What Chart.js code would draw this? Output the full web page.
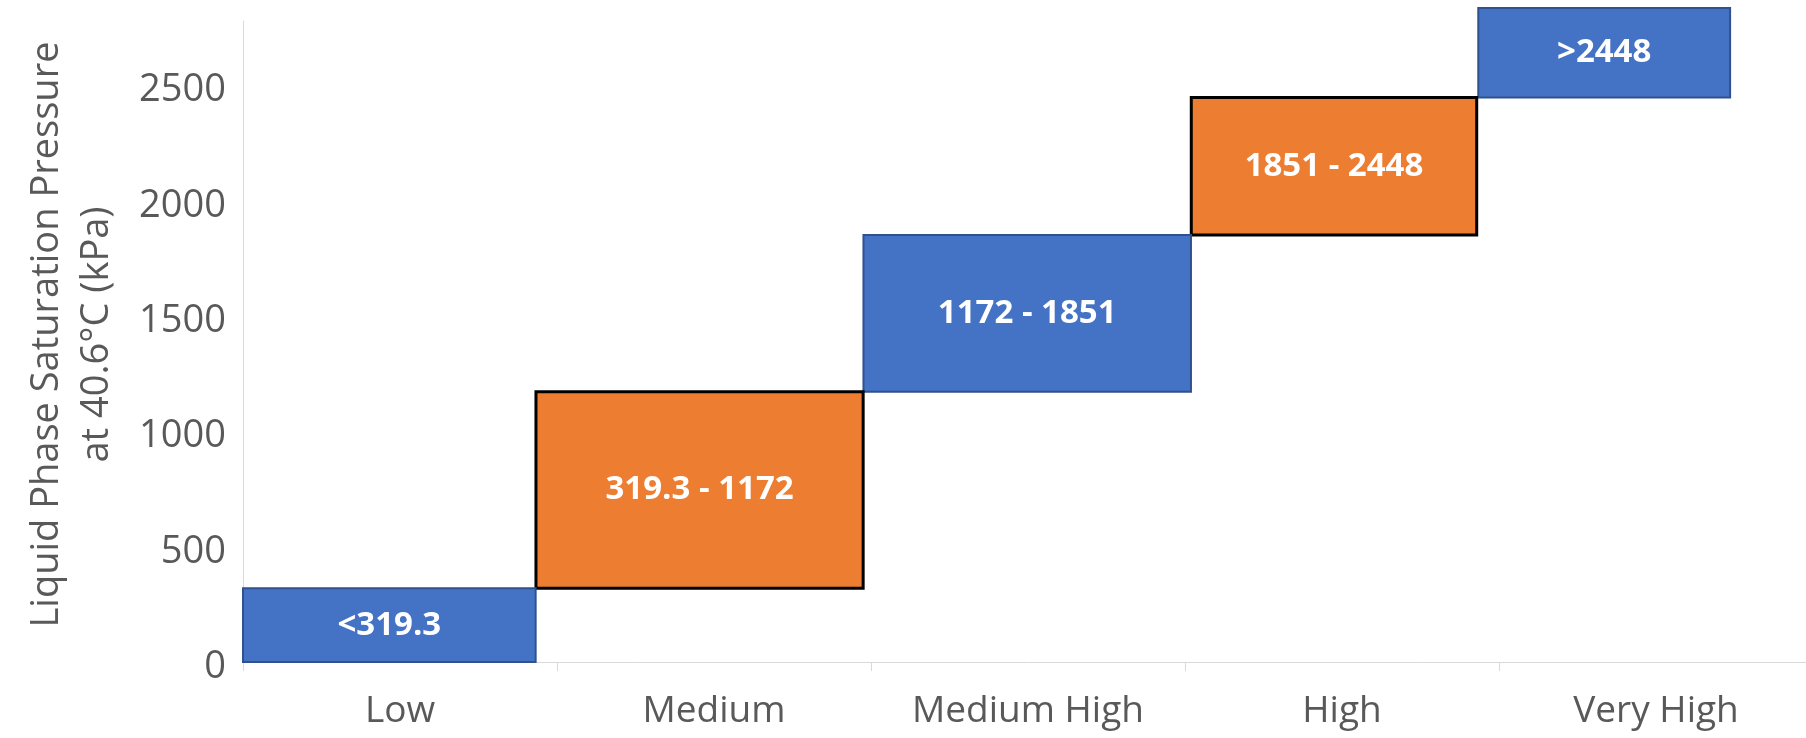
<!DOCTYPE html>
<html>
<head>
<meta charset="utf-8">
<script src="https://cdn.jsdelivr.net/npm/chart.js@4.4.1/dist/chart.umd.min.js"></script>
<style>
  html, body { margin: 0; padding: 0; background: #ffffff; overflow: hidden; }
  #wrap { width: 1820px; height: 738px; }
</style>
</head>
<body>
<div id="wrap"><canvas id="chart" width="1820" height="738"></canvas></div>
<script>
// Pressure classes and their liquid phase saturation pressure ranges (kPa at 40.6 °C)
const categories  = ['Low', 'Medium', 'Medium High', 'High', 'Very High'];
const rangeLow    = [0, 319.3, 1172, 1851, 2448];
const rangeHigh   = [319.3, 1172, 1851, 2448, 2836];
const rangeLabels = ['<319.3', '319.3 - 1172', '1172 - 1851', '1851 - 2448', '>2448'];
// Horizontal extent of each band, in category units (0 = left edge, 5 = right edge)
const bandStart   = [0, 0.933, 1.976, 3.020, 3.934];
const bandEnd     = [0.932, 1.975, 3.019, 3.929, 4.736];
const yTickValues = [0, 500, 1000, 1500, 2000, 2500];
const yAxisLineTop = 2780;

const BLUE = '#4472C4', BLUE_EDGE = '#2F528F';
const ORANGE = '#ED7D31', ORANGE_EDGE = '#000000';
const TEXT_GREY = '#595959';
const AXIS_GREY = '#D9D9D9';

const datasets = categories.map((name, i) => {
  const orange = i % 2 === 1;
  const x0 = bandStart[i], x1 = bandEnd[i];
  const y0 = rangeLow[i], y1 = rangeHigh[i];
  return {
    label: name,
    type: 'line',
    xAxisID: 'band',
    yAxisID: 'y',
    data: [
      { x: x0, y: y0 }, { x: x1, y: y0 }, { x: x1, y: y1 },
      { x: x0, y: y1 }, { x: x0, y: y0 }
    ],
    fill: 'shape',
    backgroundColor: orange ? ORANGE : BLUE,
    borderColor: orange ? ORANGE_EDGE : BLUE_EDGE,
    borderWidth: orange ? 3 : 2,
    borderJoinStyle: 'miter',
    borderCapStyle: 'square',
    tension: 0,
    pointRadius: 0,
    pointHoverRadius: 0,
    clip: false
  };
});

// Vertical axis line, stopping a little below the top of the plot
const valueAxisLine = {
  id: 'valueAxisLine',
  beforeDatasetsDraw(chart) {
    const { ctx, chartArea } = chart;
    const ys = chart.scales.y;
    const x = Math.round(chartArea.left) + 0.5;
    ctx.save();
    ctx.strokeStyle = AXIS_GREY;
    ctx.lineWidth = 1;
    ctx.beginPath();
    ctx.moveTo(x, ys.getPixelForValue(yAxisLineTop));
    ctx.lineTo(x, ys.getPixelForValue(0));
    ctx.stroke();
    ctx.restore();
  }
};

// Writes the range text in the middle of each band
const bandLabels = {
  id: 'bandLabels',
  afterDatasetsDraw(chart) {
    const { ctx } = chart;
    const xs = chart.scales.band, ys = chart.scales.y;
    ctx.save();
    ctx.fillStyle = '#FFFFFF';
    ctx.font = 'bold 33px "Open Sans", sans-serif';
    ctx.textAlign = 'center';
    ctx.textBaseline = 'middle';
    rangeLabels.forEach((txt, i) => {
      const x = xs.getPixelForValue((bandStart[i] + bandEnd[i]) / 2);
      const y = ys.getPixelForValue((rangeLow[i] + rangeHigh[i]) / 2);
      ctx.fillText(txt, x, y);
    });
    ctx.restore();
  }
};

new Chart(document.getElementById('chart'), {
  type: 'line',
  data: { labels: categories, datasets },
  plugins: [valueAxisLine, bandLabels],
  options: {
    responsive: false,
    devicePixelRatio: 1,
    animation: false,
    events: [],
    layout: { padding: { left: 0, right: 7, top: 7, bottom: 0 } },
    plugins: {
      legend: { display: false },
      tooltip: { enabled: false }
    },
    scales: {
      x: {
        type: 'category',
        labels: categories,
        position: 'bottom',
        offset: true,
        grid: {
          display: true,
          offset: true,
          drawOnChartArea: false,
          drawTicks: true,
          tickLength: 9,
          color: AXIS_GREY,
          lineWidth: 1
        },
        border: { display: true, color: AXIS_GREY, width: 1 },
        ticks: {
          color: TEXT_GREY,
          font: { family: '"Open Sans", sans-serif', size: 37 },
          padding: 18,
          maxRotation: 0,
          autoSkip: false
        },
        afterFit(scale) {
          scale.height = 76;
          scale.paddingLeft = 0;
          scale.paddingRight = 0;
        }
      },
      band: {
        type: 'linear',
        axis: 'x',
        position: 'bottom',
        min: 0,
        max: 5,
        display: false
      },
      y: {
        type: 'linear',
        min: 0,
        max: 2840,
        grid: { display: false, drawTicks: false },
        border: { display: false },
        ticks: {
          color: TEXT_GREY,
          font: { family: '"Open Sans", sans-serif', size: 38 },
          padding: 17,
          labelOffset: 5,
          callback: (value) => String(value)
        },
        afterBuildTicks(scale) {
          scale.ticks = yTickValues.map(v => ({ value: v }));
        },
        title: {
          display: true,
          text: ['Liquid Phase Saturation Pressure', 'at 40.6°C (kPa)'],
          color: TEXT_GREY,
          font: { family: '"Open Sans", sans-serif', size: 38, lineHeight: 1.32 },
          padding: { top: 22, bottom: 0 }
        },
        afterFit(scale) {
          scale.width = 243;
          scale.paddingTop = 0;
          scale.paddingBottom = 0;
        }
      }
    }
  }
});
</script>
</body>
</html>
